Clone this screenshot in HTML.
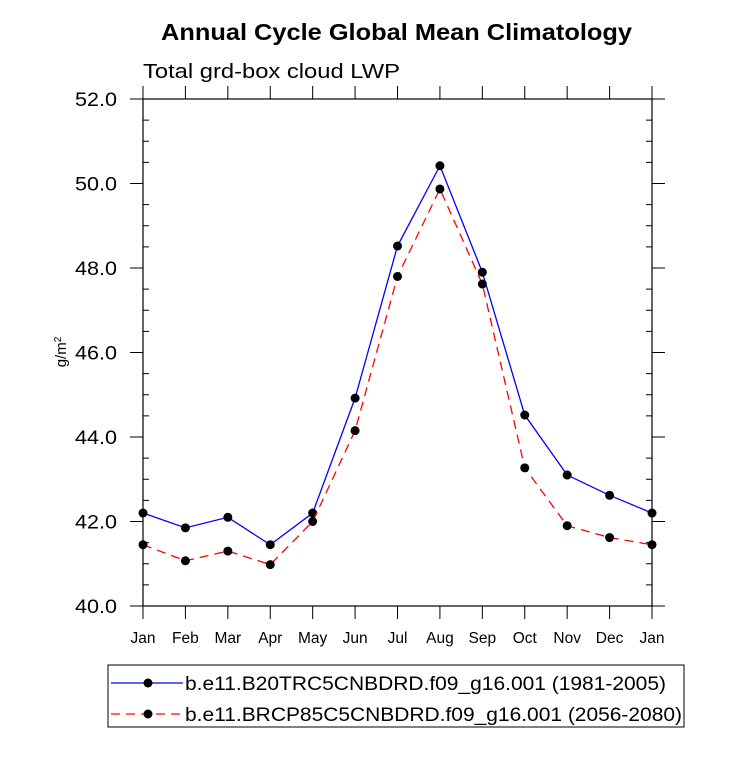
<!DOCTYPE html>
<html><head><meta charset="utf-8"><style>
body{margin:0;background:#fff}
svg text{font-family:"Liberation Sans",Helvetica,sans-serif;fill:#000}
</style></head><body>
<svg width="733" height="754" xmlns="http://www.w3.org/2000/svg">
<text x="161" y="40" font-size="23" font-weight="bold" textLength="471" lengthAdjust="spacingAndGlyphs">Annual Cycle Global Mean Climatology</text>
<text x="143" y="78" font-size="20" textLength="257" lengthAdjust="spacingAndGlyphs">Total grd-box cloud LWP</text>
<text transform="translate(66,352) rotate(-90)" text-anchor="middle" font-size="15">g/m<tspan dy="-5" font-size="10">2</tspan></text>
<g id="axes"></g>
<g id="series"></g>
<rect x="108" y="665" width="576" height="62" fill="none" stroke="#000" stroke-width="1"/>
<g>
<line x1="111" y1="683" x2="183" y2="683" stroke="#0000ff" stroke-width="1.3"/>
<circle cx="148" cy="683" r="4.5" fill="#000"/>
<text x="185" y="690" font-size="19" textLength="481" lengthAdjust="spacingAndGlyphs">b.e11.B20TRC5CNBDRD.f09_g16.001 (1981-2005)</text>
</g>
<g>
<line x1="111" y1="714" x2="183" y2="714" stroke="#ff0000" stroke-width="1.3" stroke-dasharray="9,6"/>
<circle cx="148" cy="714" r="4.5" fill="#000"/>
<text x="185" y="721" font-size="19" textLength="497" lengthAdjust="spacingAndGlyphs">b.e11.BRCP85C5CNBDRD.f09_g16.001 (2056-2080)</text>
</g>
</svg>
<script>
const months=["Jan","Feb","Mar","Apr","May","Jun","Jul","Aug","Sep","Oct","Nov","Dec","Jan"];
const histValues=[42.2,41.85,42.1,41.45,42.2,44.92,48.52,50.42,47.9,44.52,43.1,42.62,42.2];
const rcpValues=[41.45,41.07,41.3,40.98,42.0,44.15,47.8,49.87,47.62,43.27,41.9,41.62,41.45];
const yTicks=[40,42,44,46,48,50,52];
const yTickLabels=["40.0","42.0","44.0","46.0","48.0","50.0","52.0"];

const L=143,R=652,T=99,B=606,yMin=40,yMax=52;
const xS=i=>L+(R-L)*i/(months.length-1);
const yS=v=>B-(B-T)*(v-yMin)/(yMax-yMin);
const NS="http://www.w3.org/2000/svg";
function mk(tag,attrs,parent){const e=document.createElementNS(NS,tag);for(const k in attrs)e.setAttribute(k,attrs[k]);parent.appendChild(e);return e;}
const ax=document.getElementById('axes');
const frame=mk('rect',{x:L,y:T,width:R-L,height:B-T,fill:'none',stroke:'#000','stroke-width':1.2},ax);


months.forEach((m,i)=>{
  const x=xS(i);
  mk('line',{x1:x,y1:B,x2:x,y2:B+13,stroke:'#000','stroke-width':1},ax);
  mk('line',{x1:x,y1:T,x2:x,y2:T-13,stroke:'#000','stroke-width':1},ax);
  const t=mk('text',{x:x,y:B+37,'text-anchor':'middle','font-size':15.5},ax);
  t.textContent=m;
  
  
});
for(let v=yMin;v<=yMax+1e-9;v+=0.5){
  const y=yS(v);
  if(Math.abs(v-Math.round(v/2)*2)<1e-9){
    mk('line',{x1:L-13,y1:y,x2:L,y2:y,stroke:'#000','stroke-width':1},ax);
    mk('line',{x1:R,y1:y,x2:R+13,y2:y,stroke:'#000','stroke-width':1},ax);
  }else{
    mk('line',{x1:L,y1:y,x2:L+6,y2:y,stroke:'#000','stroke-width':1},ax);
    mk('line',{x1:R-6,y1:y,x2:R,y2:y,stroke:'#000','stroke-width':1},ax);
  }
}
yTicks.forEach((v,i)=>{
  const t=mk('text',{x:75,y:yS(v)+7,'font-size':19,textLength:42,lengthAdjust:'spacingAndGlyphs'},ax);
  t.textContent=yTickLabels[i];
  
  
});
const sg=document.getElementById('series');
function draw(vals,color,dash,name){
  const g=mk('g',{},sg);
  
  
  const p=mk('polyline',{points:vals.map((v,i)=>xS(i)+','+yS(v)).join(' '),fill:'none',stroke:color,'stroke-width':1.3,'stroke-dasharray':dash},g);
  
  
  vals.forEach((v,i)=>{
    const c=mk('circle',{cx:xS(i),cy:yS(v),r:4.5,fill:'#000'},g);
    
    
  });
}
draw(histValues,'#0000ff','none','series-historical');
draw(rcpValues,'#ff0000','9,6','series-rcp85');
</script>
</body></html>
